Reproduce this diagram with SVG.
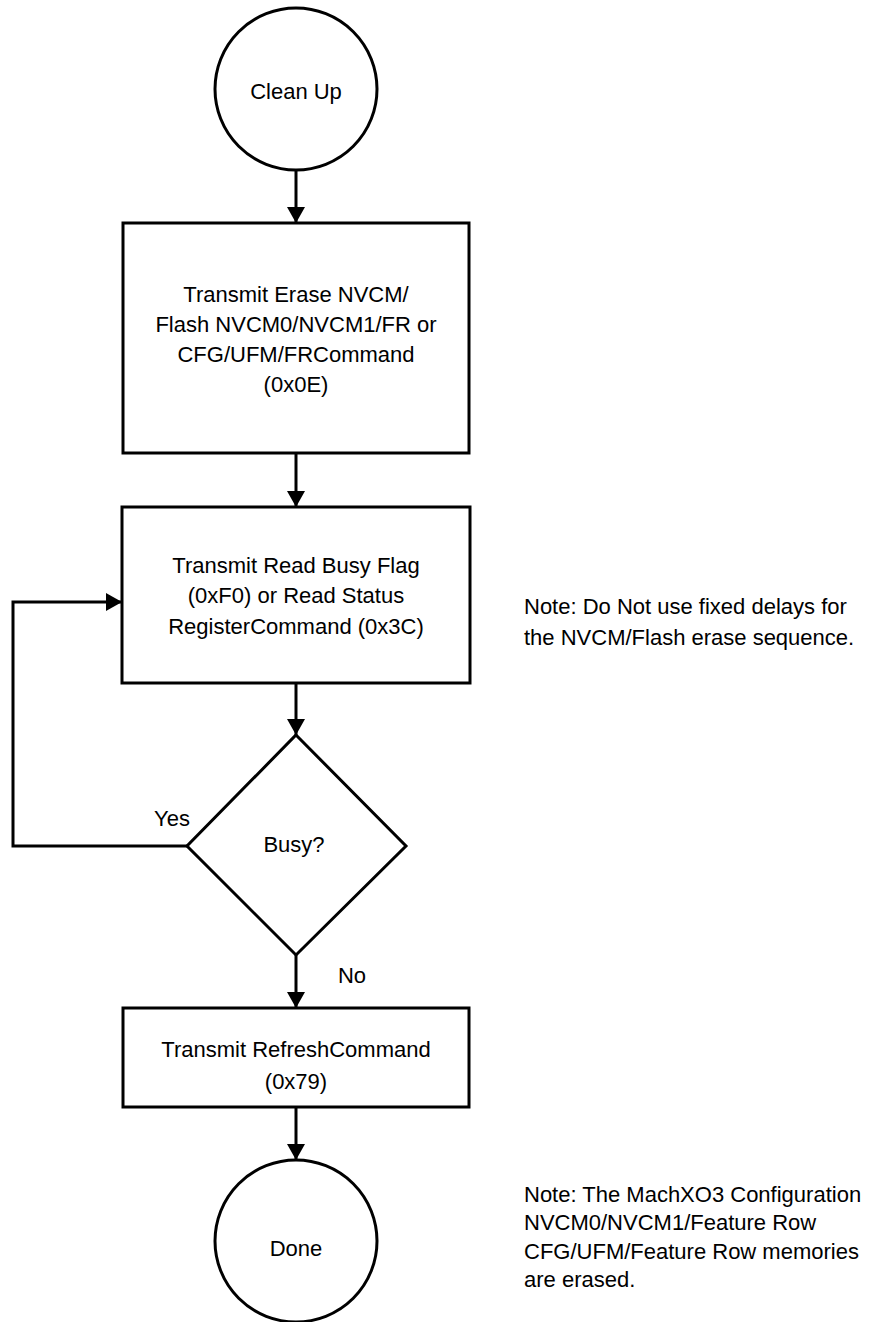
<svg xmlns="http://www.w3.org/2000/svg" width="879" height="1322" viewBox="0 0 879 1322">
<style>
.shape{fill:#fff;stroke:#000;stroke-width:3}
.conn{fill:none;stroke:#000;stroke-width:3}
text{font-family:"Liberation Sans",Arial,sans-serif;font-size:22px;fill:#000}
.c{text-anchor:middle}
</style>
<defs>
<marker id="arr" viewBox="0 0 16 18" refX="16" refY="9" markerWidth="16" markerHeight="18" markerUnits="userSpaceOnUse" orient="auto">
<path d="M0,0 L16,9 L0,18 Z" fill="#000"/>
</marker>
</defs>
<rect width="879" height="1322" fill="#fff"/>
<g id="connectors">
<path class="conn" d="M296,171 V223" marker-end="url(#arr)"/>
<path class="conn" d="M296,453 V507" marker-end="url(#arr)"/>
<path class="conn" d="M296,683 V735" marker-end="url(#arr)"/>
<path class="conn" d="M296,955 V1008" marker-end="url(#arr)"/>
<path class="conn" d="M296,1107 V1160" marker-end="url(#arr)"/>
<path class="conn" d="M187,846 H13 V602 H122" marker-end="url(#arr)"/>
<text x="172" y="826" class="c">Yes</text>
<text x="352" y="983" class="c">No</text>
</g>
<g id="start">
<circle class="shape" cx="296" cy="89" r="81"/>
<text x="296" y="99" class="c">Clean Up</text>
</g>
<g id="erase">
<rect class="shape" x="123" y="223" width="346" height="230"/>
<text x="296" y="302" class="c">Transmit Erase NVCM/</text>
<text x="296" y="332" class="c">Flash NVCM0/NVCM1/FR or</text>
<text x="296" y="362" class="c">CFG/UFM/FRCommand</text>
<text x="296" y="392" class="c">(0x0E)</text>
</g>
<g id="readbusy">
<rect class="shape" x="122" y="507" width="348" height="176"/>
<text x="296" y="573" class="c">Transmit Read Busy Flag</text>
<text x="296" y="603" class="c">(0xF0) or Read Status</text>
<text x="296" y="634" class="c">RegisterCommand (0x3C)</text>
</g>
<g id="busy">
<polygon class="shape" points="296,735 406,846 296,955 187,846"/>
<text x="294" y="852" class="c">Busy?</text>
</g>
<g id="refresh">
<rect class="shape" x="123" y="1008" width="346" height="99"/>
<text x="296" y="1057" class="c">Transmit RefreshCommand</text>
<text x="296" y="1089" class="c">(0x79)</text>
</g>
<g id="done">
<circle class="shape" cx="296" cy="1241" r="81"/>
<text x="296" y="1256" class="c">Done</text>
</g>
<g id="note1">
<text x="524" y="614">Note: Do Not use fixed delays for</text>
<text x="524" y="645">the NVCM/Flash erase sequence.</text>
</g>
<g id="note2">
<text x="524" y="1202">Note: The MachXO3 Configuration</text>
<text x="524" y="1230">NVCM0/NVCM1/Feature Row</text>
<text x="524" y="1259">CFG/UFM/Feature Row memories</text>
<text x="524" y="1287">are erased.</text>
</g>
</svg>
